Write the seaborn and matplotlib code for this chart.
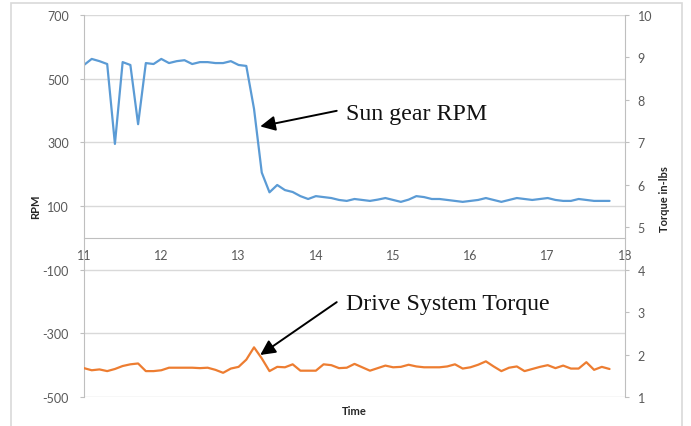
import matplotlib
matplotlib.use("Agg")
import matplotlib.pyplot as plt
from matplotlib.patches import Rectangle
import seaborn as sns

# time axis (s)
time = [11.0, 11.1, 11.2, 11.3, 11.4, 11.5, 11.6, 11.7, 11.8, 11.9,
        12.0, 12.1, 12.2, 12.3, 12.4, 12.5, 12.6, 12.7, 12.8, 12.9,
        13.0, 13.1, 13.2, 13.3, 13.4, 13.5, 13.6, 13.7, 13.8, 13.9,
        14.0, 14.1, 14.2, 14.3, 14.4, 14.5, 14.6, 14.7, 14.8, 14.9,
        15.0, 15.1, 15.2, 15.3, 15.4, 15.5, 15.6, 15.7, 15.8, 15.9,
        16.0, 16.1, 16.2, 16.3, 16.4, 16.5, 16.6, 16.7, 16.8, 16.9,
        17.0, 17.1, 17.2, 17.3, 17.4, 17.5, 17.6, 17.7, 17.8]

# sun gear speed, left axis
rpm = [543, 562, 555, 546, 295, 552, 543, 357, 549, 546,
       562, 549, 555, 558, 546, 552, 552, 549, 549, 555,
       543, 540, 405, 205, 143, 166, 150, 144, 131, 122,
       131, 128, 125, 119, 116, 122, 119, 116, 120, 125,
       119, 113, 120, 131, 128, 122, 122, 119, 116, 113,
       116, 119, 125, 119, 113, 119, 125, 122, 119, 122,
       125, 119, 116, 116, 122, 119, 116, 116, 116]

# drive system torque, right axis
torque = [1.68, 1.63, 1.65, 1.61, 1.66, 1.73, 1.77, 1.79, 1.61, 1.61,
          1.63, 1.69, 1.69, 1.69, 1.69, 1.68, 1.69, 1.64, 1.57, 1.67,
          1.71, 1.88, 2.17, 1.91, 1.61, 1.71, 1.70, 1.77, 1.62, 1.62,
          1.62, 1.77, 1.75, 1.68, 1.69, 1.78, 1.70, 1.62, 1.68, 1.74,
          1.70, 1.71, 1.76, 1.72, 1.70, 1.70, 1.70, 1.72, 1.77, 1.67,
          1.70, 1.76, 1.84, 1.72, 1.61, 1.69, 1.72, 1.61, 1.66, 1.71,
          1.75, 1.68, 1.74, 1.67, 1.67, 1.82, 1.64, 1.71, 1.66]

rpm_ticks = [-500, -300, -100, 100, 300, 500, 700]
torque_ticks = [1, 2, 3, 4, 5, 6, 7, 8, 9, 10]
time_ticks = [11, 12, 13, 14, 15, 16, 17, 18]

sns.set_style("white")
plt.rcParams['font.family'] = ['Lato', 'DejaVu Sans']
plt.rcParams['axes.unicode_minus'] = False

blue = '#5B9BD5'
orange = '#ED7D31'
axcol = '#BFBFBF'
txtcol = '#595959'

fig = plt.figure(figsize=(6.91, 4.27), dpi=100)
ax = fig.add_axes([84/691, 29/427, 541/691, 382/427])
ax2 = ax.twinx()

sns.lineplot(x=time, y=rpm, ax=ax, color=blue, linewidth=1.6)
sns.lineplot(x=time, y=torque, ax=ax2, color=orange, linewidth=1.6)

ax.set_xlim(11, 18)
ax.set_ylim(-500, 700)
ax2.set_ylim(1, 10)
ax.set_xticks(time_ticks)
ax.set_yticks(rpm_ticks)
ax2.set_yticks(torque_ticks)

ax.yaxis.grid(True, color='#D9D9D9', linewidth=1)
ax.set_axisbelow(True)

for s in ['top', 'right']:
    ax.spines[s].set_visible(False)
ax.spines['bottom'].set_position(('data', 0))
ax.spines['bottom'].set_color(axcol)
ax.spines['left'].set_color(axcol)
for s in ['top', 'left', 'bottom']:
    ax2.spines[s].set_visible(False)
ax2.spines['right'].set_color(axcol)

ax.tick_params(axis='x', direction='out', length=3, color=axcol,
               labelcolor=txtcol, labelsize=9, pad=5)
ax.tick_params(axis='y', direction='out', length=3, color=axcol,
               labelcolor=txtcol, labelsize=9, pad=8)
ax2.tick_params(axis='y', direction='out', length=3, color=axcol,
                labelcolor=txtcol, labelsize=9, pad=6)

ax.set_xlabel('Time', fontsize=8, fontweight='bold', color='#262626')
ax.xaxis.set_label_coords(0.5, -0.02)
ax.set_ylabel('RPM', fontsize=8, fontweight='bold', color='#262626')
ax.yaxis.set_label_coords(-0.09, 0.5)
ax.yaxis.label.set_verticalalignment('center')
ax2.set_ylabel('Torque in-lbs', fontsize=8, fontweight='bold', color='#262626')
ax2.yaxis.set_label_coords(1.073, 0.52)
ax2.yaxis.label.set_verticalalignment('center')

arrow = dict(arrowstyle='-|>,head_length=0.9,head_width=0.45',
             color='black', lw=1.4, shrinkA=0, shrinkB=0)
ax.annotate('', xy=(13.28, 350), xytext=(14.27, 399), arrowprops=arrow)
ax.annotate('', xy=(13.28, -368), xytext=(14.27, -202), arrowprops=arrow)
ax.text(14.39, 373, 'Sun gear RPM', family='Liberation Serif',
        fontsize=17.2, va='baseline', ha='left', color='#111111')
ax.text(14.39, -223, 'Drive System Torque', family='Liberation Serif',
        fontsize=17.2, va='baseline', ha='left', color='#111111')

# chart area border
fig.patches.append(Rectangle((11/691, -0.05), 671/691, (427-4)/427 + 0.05,
                             transform=fig.transFigure, fill=False,
                             edgecolor='#D9D9D9', linewidth=1.2))

fig.savefig('out.png', dpi=100)
